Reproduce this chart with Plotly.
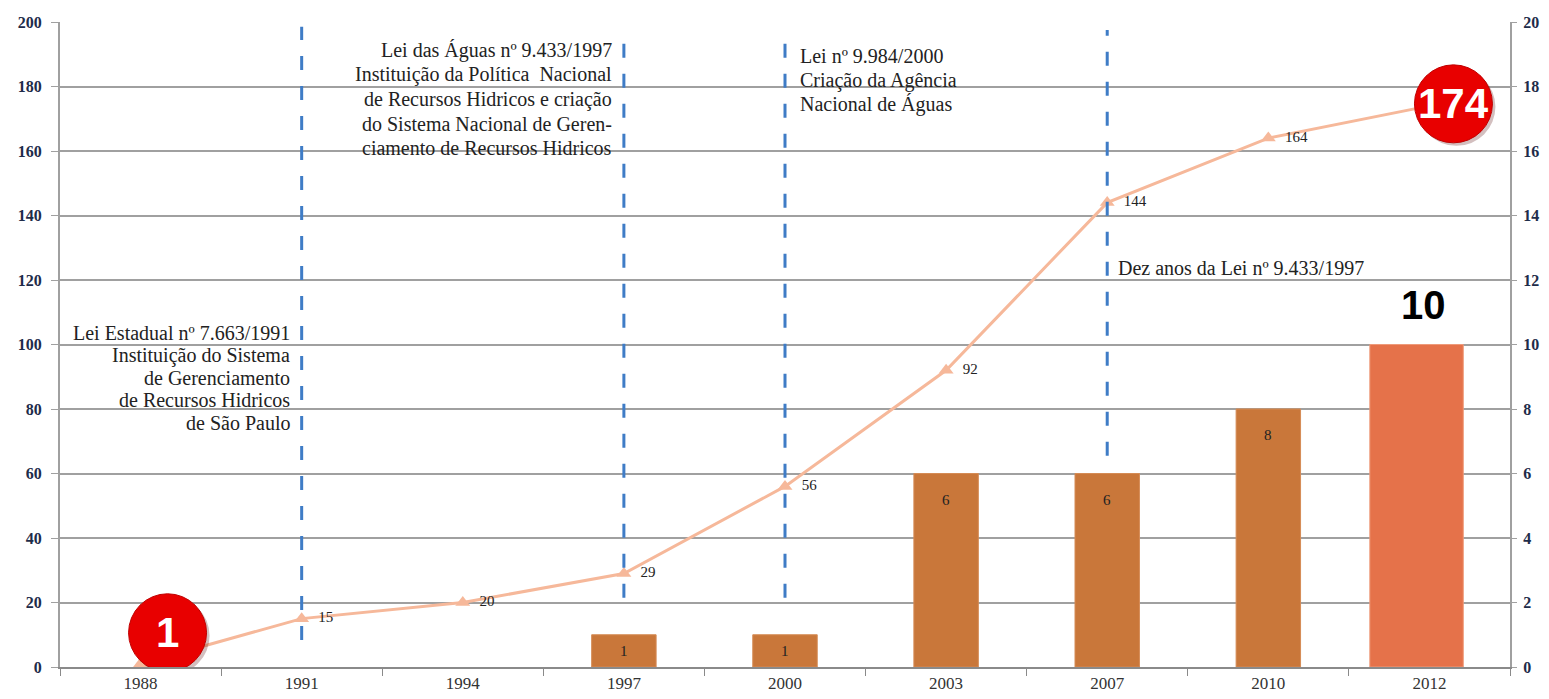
import plotly.graph_objects as go

# ---------------- data ----------------
years = ["1988", "1991", "1994", "1997", "2000", "2003", "2007", "2010", "2012"]
committees_total = [1, 15, 20, 29, 56, 92, 144, 164, 174]          # line, left axis
bar_years = ["1997", "2000", "2003", "2007", "2010"]
bar_values = [1, 1, 6, 6, 8]                                         # bars, right axis
highlight_year = ["2012"]
highlight_value = [10]

left_ticks = [0, 20, 40, 60, 80, 100, 120, 140, 160, 180, 200]
right_ticks = [0, 2, 4, 6, 8, 10, 12, 14, 16, 18, 20]

law_years = ["1991", "1997", "2000", "2007"]
law_line_ranges = [(8.4, 198.5), (21.5, 197.5), (21.5, 196.5), (65.5, 197.5)]

note_1991 = ["Lei Estadual nº 7.663/1991", "Instituição do Sistema", "de Gerenciamento",
             "de Recursos Hidricos", "de São Paulo"]
note_1997 = ["Lei das Águas nº 9.433/1997", "Instituição da Política  Nacional",
             "de Recursos Hidricos e criação", "do Sistema Nacional de Geren-",
             "ciamento de Recursos Hidricos"]
note_2000 = ["Lei nº 9.984/2000", "Criação da Agência", "Nacional de Águas"]
note_2007 = ["Dez anos da Lei nº 9.433/1997"]

SERIF = "Liberation Serif, Times New Roman, serif"
SANS = "Liberation Sans, Arial, sans-serif"

idx = {y: i for i, y in enumerate(years)}

fig = go.Figure()

# bars (right axis)
fig.add_trace(go.Bar(
    x=bar_years, y=bar_values, yaxis="y2", width=0.40,
    marker=dict(color="#C9773A", line=dict(color="#D58B55", width=1)),
    hoverinfo="skip",
))
fig.add_trace(go.Bar(
    x=highlight_year, y=highlight_value, yaxis="y2", width=0.58, offset=-0.37,
    marker=dict(color="#E5724A", line=dict(color="#EE9A7A", width=1)),
    hoverinfo="skip",
))

# line (left axis); first and last values are shown in the red badges
line_text = ["\u00a0\u00a0" + str(v) for v in committees_total]
line_text[0] = ""
line_text[-1] = ""
fig.add_trace(go.Scatter(
    x=years, y=committees_total, mode="lines+markers+text",
    line=dict(color="#F6B89A", width=3),
    marker=dict(symbol="triangle-up", size=13, color="#F6B89A"),
    text=line_text,
    textposition="middle right",
    textfont=dict(family=SERIF, size=15, color="#222222"),
    hoverinfo="skip",
))

shapes = []
# dashed law lines
for yr, (y0, y1) in zip(law_years, law_line_ranges):
    shapes.append(dict(type="line", xref="x", yref="y", x0=idx[yr], x1=idx[yr], y0=y0, y1=y1,
                       line=dict(color="#3F7CC6", width=3, dash="14px,16px"), layer="above"))

# red badges anchored on first and last points
badges = [(years[0], committees_total[0], 27, 31), (years[-1], committees_total[-1], 24, 2)]
annotations = []
for yr, val, dx, dy in badges:
    r = 39
    shapes.append(dict(type="circle", xref="x", yref="y", xsizemode="pixel", ysizemode="pixel",
                       xanchor=idx[yr], yanchor=val,
                       x0=dx - r + 3, x1=dx + r + 3, y0=dy - r - 3, y1=dy + r - 3,
                       fillcolor="rgba(80,0,0,0.25)", line=dict(width=0), layer="above"))
    shapes.append(dict(type="circle", xref="x", yref="y", xsizemode="pixel", ysizemode="pixel",
                       xanchor=idx[yr], yanchor=val,
                       x0=dx - r, x1=dx + r, y0=dy - r, y1=dy + r,
                       fillcolor="#E80000", line=dict(color="#C00000", width=1), layer="above"))
    annotations.append(dict(x=idx[yr], y=val, xref="x", yref="y", text="<b>%d</b>" % val,
                            showarrow=False, xshift=dx, yshift=dy,
                            font=dict(family=SANS, size=42, color="white")))

# bar value labels
for yr, v in zip(bar_years, bar_values):
    shift = -16 if v <= 1 else -26
    annotations.append(dict(x=idx[yr], y=v, xref="x", yref="y2", text=str(v), showarrow=False,
                            yshift=shift, font=dict(family=SERIF, size=15, color="#222222")))
annotations.append(dict(x=idx[highlight_year[0]], y=highlight_value[0], xref="x", yref="y2",
                        text="<b>%d</b>" % highlight_value[0], showarrow=False,
                        xshift=-6, yshift=40, font=dict(family=SANS, size=40, color="black")))


def add_note(lines, year, y_first, spacing, anchor, xshift):
    for k, line in enumerate(lines):
        annotations.append(dict(x=idx[year], y=y_first, xref="x", yref="y", text=line,
                                showarrow=False, xanchor=anchor, yanchor="middle",
                                xshift=xshift, yshift=-k * spacing,
                                font=dict(family=SERIF, size=20, color="#222222")))


add_note(note_1991, "1991", 103.6, 22.5, "right", -10)
add_note(note_1997, "1997", 191.3, 24.5, "right", -10)
add_note(note_2000, "2000", 189.5, 24.5, "left", 13)
add_note(note_2007, "2007", 123.7, 24.5, "left", 9)

# the page body adds an 8px margin, so the figure is 8px smaller and its margins shifted
fig.update_layout(
    width=1541, height=691,
    margin=dict(l=52, r=39, t=14, b=32),
    paper_bgcolor="white", plot_bgcolor="white",
    showlegend=False, barmode="overlay",
    shapes=shapes, annotations=annotations,
    xaxis=dict(type="category", categoryorder="array", categoryarray=years,
               range=[-0.5, len(years) - 0.5], tickson="boundaries", automargin=False,
               ticks="outside", ticklen=7, tickcolor="#8a8a8a", tickwidth=1,
               showline=True, linecolor="#8a8a8a", linewidth=2, showgrid=False,
               tickfont=dict(family=SERIF, size=17, color="#333333")),
    yaxis=dict(range=[0, 200], tickvals=left_ticks, automargin=False,
               ticktext=["<b>%d</b>" % t for t in left_ticks],
               showgrid=True, gridcolor="#A0A0A0", gridwidth=1.5, zeroline=False,
               showline=True, linecolor="#A0A0A0", linewidth=2,
               ticks="outside", ticklen=7, tickcolor="#A0A0A0", ticklabelstandoff=6,
               tickfont=dict(family=SERIF, size=16, color="#1E2C4A")),
    yaxis2=dict(range=[0, 20], tickvals=right_ticks, automargin=False,
                ticktext=["<b>%d</b>" % t for t in right_ticks],
                overlaying="y", side="right", showgrid=False, zeroline=False,
                showline=True, linecolor="#A0A0A0", linewidth=2,
                ticks="outside", ticklen=5, tickcolor="#A0A0A0", ticklabelstandoff=3,
                tickfont=dict(family=SERIF, size=16, color="#1E2C4A")),
)

fig.write_html("out.html")
